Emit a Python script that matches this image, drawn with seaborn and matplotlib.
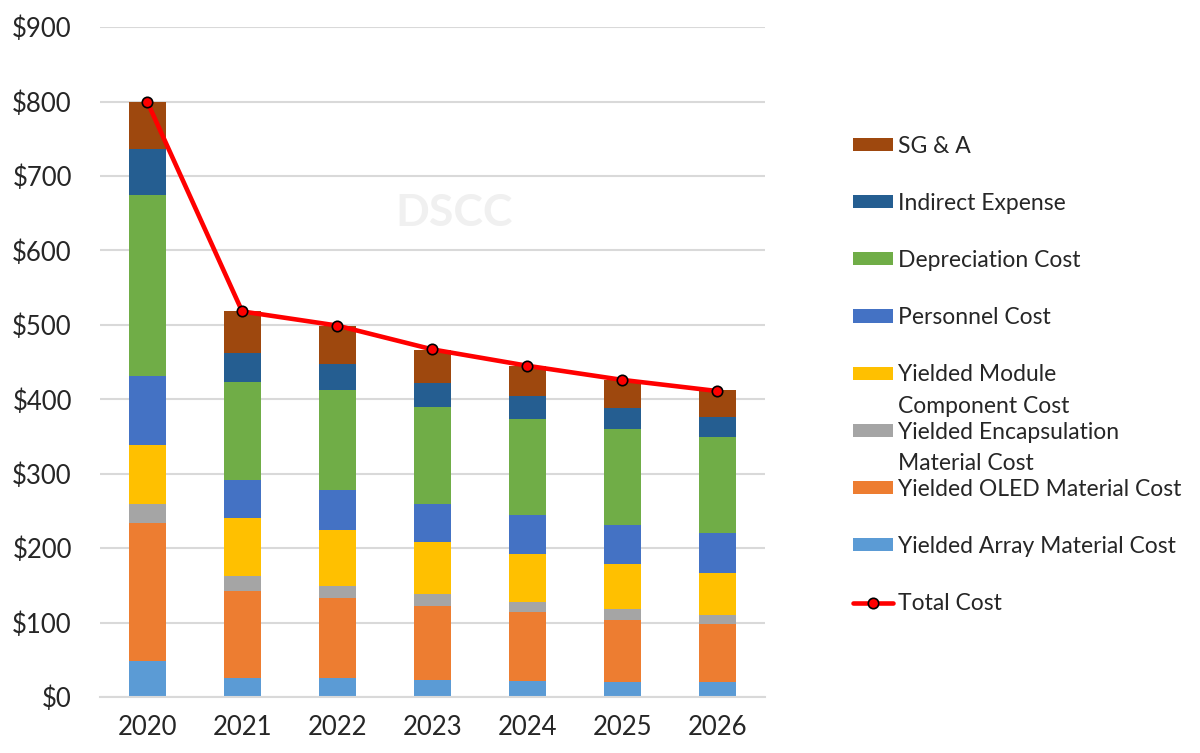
import numpy as np
import pandas as pd
import seaborn as sns
import matplotlib.pyplot as plt
from matplotlib.patches import Patch
from matplotlib.lines import Line2D

# data ($ per unit)
years = ["2020", "2021", "2022", "2023", "2024", "2025", "2026"]
array_material = [48, 25, 25, 23, 21.5, 20, 20]
oled_material = [186, 118, 108, 99, 92.5, 84, 78]
encapsulation = [25, 19, 16, 17, 13.5, 14, 12]
module_component = [80, 79, 76, 69, 65, 60, 57]
personnel = [92, 50, 53, 51, 51.5, 53, 53]
depreciation = [244, 132, 135, 130, 129, 129.5, 129]
indirect = [61, 39, 35, 33, 31, 28, 27]
sga = [64, 56, 50, 44, 41, 38, 36]
total_cost = [800, 518, 499, 467, 445, 426, 411]

series_names = ["Yielded Array Material Cost", "Yielded OLED Material Cost",
                "Yielded Encapsulation\nMaterial Cost", "Yielded Module\nComponent Cost",
                "Personnel Cost", "Depreciation Cost", "Indirect Expense", "SG & A"]
series_values = [array_material, oled_material, encapsulation, module_component,
                 personnel, depreciation, indirect, sga]
colors = ["#5B9BD5", "#ED7D31", "#A5A5A5", "#FFC000",
          "#4472C4", "#70AD47", "#255E91", "#9E480E"]

sns.set_theme(style="white")
plt.rcParams['font.family'] = ['Lato', 'DejaVu Sans']
text_color = "#262626"
leg_size = 16.5

fig = plt.figure(figsize=(12, 7.53), dpi=100)
ax = fig.add_axes([0.083, 0.0744, 0.5545, 0.8896])

# stacked bars: draw the cumulative heights from the top layer down
cum = np.cumsum(np.array(series_values, dtype=float), axis=0)
for i in range(len(series_names) - 1, -1, -1):
    df = pd.DataFrame({"year": years, "value": cum[i]})
    sns.barplot(data=df, x="year", y="value", color=colors[i], width=0.39,
                saturation=1, ax=ax, zorder=2, linewidth=0)

# total cost line
sns.pointplot(x=years, y=total_cost, color="#FF0000", ax=ax, markers="o",
              linewidth=3.3, markersize=7.5, markeredgecolor="black",
              markeredgewidth=1.2, zorder=5)

ax.set_ylim(0, 900)
ax.set_xlim(-0.5, 6.5)
ax.set_yticks(range(0, 901, 100))
ax.set_yticklabels([f"${v}" for v in range(0, 901, 100)])
ax.yaxis.grid(True, color="#D9D9D9", linewidth=1.5, zorder=0)
ax.set_axisbelow(True)
ax.set_xlabel("")
ax.set_ylabel("")
for s in ["left", "right", "top"]:
    ax.spines[s].set_visible(False)
ax.spines["bottom"].set_color("#D9D9D9")
ax.spines["bottom"].set_linewidth(1.5)
ax.tick_params(axis="y", length=0, pad=20, labelsize=18.5, labelcolor=text_color)
ax.tick_params(axis="x", length=0, pad=13, labelsize=18.5, labelcolor=text_color)

# watermark
ax.text(3.23, 650, "DSCC", fontsize=32, fontweight="bold", color="#F0F0F0",
        ha="center", va="center", zorder=1)

# legend: first line of each label in the legend, wrapped remainder hangs below
first_lines = [n.split("\n")[0] for n in series_names][::-1]
handles = [Patch(facecolor=c, edgecolor="none") for c in colors][::-1]
handles.append(Line2D([0], [0], color="#FF0000", linewidth=3.3, marker="o",
                      markersize=7.5, markerfacecolor="#FF0000",
                      markeredgecolor="black", markeredgewidth=1.2))
labels = first_lines + ["Total Cost"]
leg = fig.legend(handles, labels, loc="upper left", bbox_to_anchor=(0.711, 0.820),
                 frameon=False, fontsize=leg_size, labelcolor=text_color,
                 handlelength=1.75, handleheight=0.5, handletextpad=0.22,
                 labelspacing=1.58, borderpad=0, borderaxespad=0)

fig.canvas.draw()
wrapped = [n.split("\n") for n in series_names][::-1]
for txt, parts in zip(leg.get_texts(), wrapped):
    if len(parts) > 1:
        fig.add_artist(plt.Annotation(parts[1], xy=(0, 0), xycoords=txt,
                                      xytext=(0, -22.5), textcoords="offset points",
                                      fontsize=leg_size, color=text_color,
                                      ha="left", va="bottom", zorder=6))

fig.savefig("out.png", dpi=100)
